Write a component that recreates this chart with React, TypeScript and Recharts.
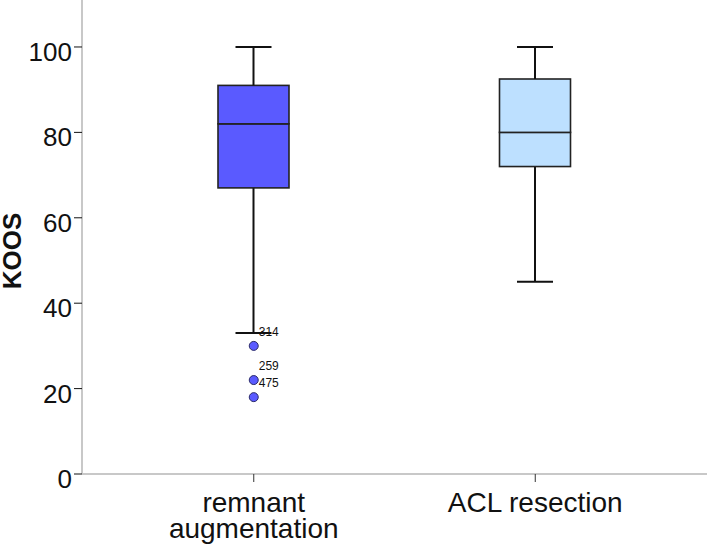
import React from 'react';
import { ComposedChart, Bar, Scatter, XAxis, YAxis, ReferenceLine } from 'recharts';

// groups and box statistics
const categories = ['remnant augmentation', 'ACL resection'];
const categoryLines = [['remnant', 'augmentation'], ['ACL resection']];
const whiskerLow = [33, 45];
const q1 = [67, 72];
const medians = [82, 80];
const q3 = [91, 92.5];
const whiskerHigh = [100, 100];
const boxColors = ['#5a5aff', '#bde0ff'];

// outliers of the first group
const outlierValues = [30, 22, 18];
const outlierIds = ['314', '259', '475'];

const yTicks = [0, 20, 40, 60, 80, 100];

const rows = categories.map((cat, i) => ({
  cat,
  base: whiskerLow[i],
  lowW: q1[i] - whiskerLow[i],
  boxLo: medians[i] - q1[i],
  boxHi: q3[i] - medians[i],
  highW: whiskerHigh[i] - q3[i],
}));

const outliers = outlierValues.map((v, i) => ({ cat: categories[0], v, id: outlierIds[i] }));

const FONT = '"Liberation Sans", Arial, sans-serif';
const CAP = 36;

if (typeof document !== 'undefined') {
  document.documentElement.style.overflow = 'hidden';
  document.body.style.margin = '0';
  document.body.style.overflow = 'hidden';
}

const LowWhisker = (p: any) => {
  const cx = p.x + p.width / 2;
  const bottom = p.y + p.height;
  return (
    <g stroke="#111" strokeWidth={2}>
      <line x1={cx} x2={cx} y1={p.y} y2={bottom} />
      <line x1={cx - CAP / 2} x2={cx + CAP / 2} y1={bottom} y2={bottom} />
    </g>
  );
};

const HighWhisker = (p: any) => {
  const cx = p.x + p.width / 2;
  return (
    <g stroke="#111" strokeWidth={2}>
      <line x1={cx} x2={cx} y1={p.y} y2={p.y + p.height} />
      <line x1={cx - CAP / 2} x2={cx + CAP / 2} y1={p.y} y2={p.y} />
    </g>
  );
};

const BoxPart = (p: any) => (
  <rect
    x={p.x}
    y={p.y}
    width={p.width}
    height={p.height}
    fill={boxColors[p.index]}
    stroke="#222"
    strokeWidth={1.6}
  />
);

const OutlierDot = (p: any) => (
  <g>
    <circle cx={p.cx} cy={p.cy} r={4.5} fill="#5a5aff" stroke="#2a2a6a" strokeWidth={1} />
    <text x={p.cx + 5} y={p.cy - 10} fontSize={12} fontFamily={FONT} fill="#111">
      {p.payload.id}
    </text>
  </g>
);

const YTick = ({ x, y, payload }: any) => (
  <text x={x} y={y + 5} textAnchor="end" dominantBaseline="central" fontSize={26} fontFamily={FONT} fill="#111">
    {payload.value}
  </text>
);

const XTick = ({ x, y, payload }: any) => {
  const idx = categories.indexOf(payload.value);
  const lines = categoryLines[idx] || [payload.value];
  return (
    <text x={x} y={y} textAnchor="middle" fontSize={28} fontFamily={FONT} fill="#111">
      {lines.map((l, i) => (
        <tspan key={i} x={x} y={y + 28 + i * 26}>
          {l}
        </tspan>
      ))}
    </text>
  );
};

const KoosLabel = () => (
  <text
    transform="translate(21, 251) rotate(-90)"
    textAnchor="middle"
    fontSize={26}
    fontWeight="bold"
    fontFamily={FONT}
    fill="#111"
  >
    KOOS
  </text>
);

export default function App() {
  return (
    <div style={{ position: 'absolute', left: 0, top: 0, width: 707, height: 548, overflow: 'hidden', background: '#fff' }}>
      <ComposedChart
        width={707}
        height={548}
        data={rows}
        margin={{ top: 0, right: 0, bottom: 0, left: 0 }}
      >
        <XAxis
          dataKey="cat"
          type="category"
          allowDuplicatedCategory={false}
          padding={{ left: 31, right: 31 }}
          axisLine={false}
          tickLine={{ stroke: '#333' }}
          tickSize={8}
          tickMargin={2}
          tick={<XTick />}
          height={74}
        />
        <YAxis
          type="number"
          domain={[0, 111]}
          ticks={yTicks}
          width={82}
          axisLine={{ stroke: '#c8c8c8', strokeWidth: 2 }}
          tickLine={{ stroke: '#111' }}
          tickSize={8}
          tickMargin={2}
          tick={<YTick />}
          label={<KoosLabel />}
        />
        <ReferenceLine y={0} stroke="#c8c8c8" strokeWidth={2} ifOverflow="visible" />
        <Bar dataKey="base" stackId="box" fill="none" barSize={71} isAnimationActive={false} />
        <Bar dataKey="lowW" stackId="box" barSize={71} shape={<LowWhisker />} isAnimationActive={false} />
        <Bar dataKey="boxLo" stackId="box" barSize={71} shape={<BoxPart />} isAnimationActive={false} />
        <Bar dataKey="boxHi" stackId="box" barSize={71} shape={<BoxPart />} isAnimationActive={false} />
        <Bar dataKey="highW" stackId="box" barSize={71} shape={<HighWhisker />} isAnimationActive={false} />
        <Scatter data={outliers} dataKey="v" shape={<OutlierDot />} isAnimationActive={false} />
      </ComposedChart>
    </div>
  );
}
